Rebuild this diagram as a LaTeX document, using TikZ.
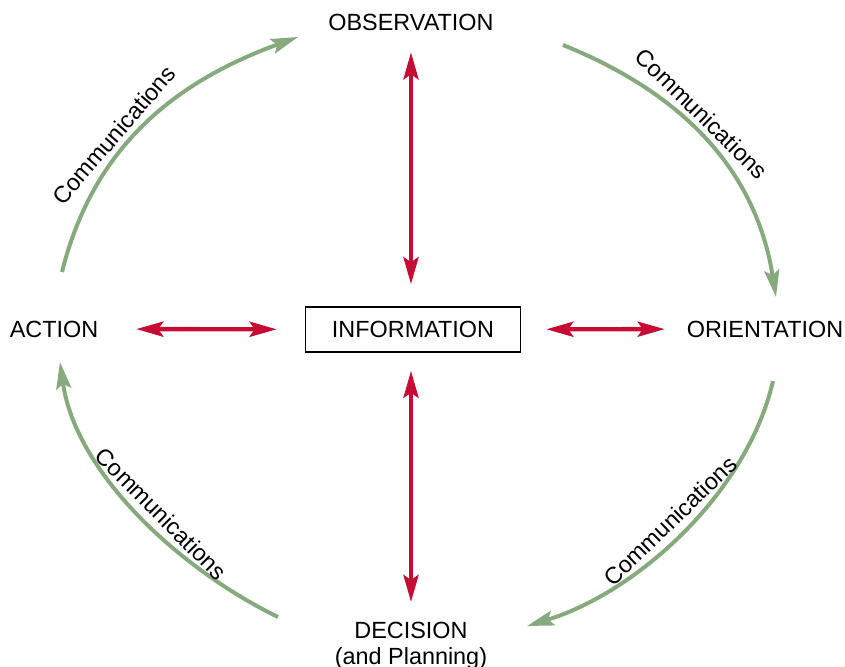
\documentclass[tikz,border=0pt]{standalone}
\usepackage{fontspec}
\setmainfont{Liberation Sans}
\usetikzlibrary{arrows.meta}
\definecolor{infored}{RGB}{198,12,52}
\definecolor{commgreen}{RGB}{134,170,126}

\begin{document}
\begin{tikzpicture}[x=0.5pt,y=0.5pt,
    every node/.style={inner sep=0pt, font=\fontsize{11.7}{12.8}\selectfont},
    infobox/.style={draw, line width=0.75pt, minimum width=107.5pt, minimum height=22.5pt},
    infolink/.style={infored, line width=2.2pt,
      {Stealth[length=13.5pt,width=7.5pt,inset=2.5pt]}-{Stealth[length=13.5pt,width=7.5pt,inset=2.5pt]}},
    comm/.style={commgreen, line width=2pt, -{Stealth[length=13.5pt,width=7.5pt,inset=2.5pt]}},
    commlabel/.style={sloped, above, inner sep=2.5pt, text=black}]
  \useasboundingbox (0,0) rectangle (845,-667);
  % the four phases and the centre box
  \node (obs) at (411,-22) {OBSERVATION};
  \node (ori) at (765,-329) {ORIENTATION};
  \node (act) at (54,-329) {ACTION};
  \node[align=center, anchor=north] (dec) at (411,-622) {DECISION\\(and Planning)};
  \node[infobox] (info) at (413,-329.5) {INFORMATION};
  % information exchange
  \draw[infolink, shorten <=11pt, shorten >=10.8pt] (info.north -| obs) -- (obs);
  \draw[infolink, shorten <=9pt, shorten >=10pt] (info.south -| dec) -- (dec);
  \draw[infolink, shorten <=14pt, shorten >=18.8pt] (info) -- (act);
  \draw[infolink, shorten <=12.5pt, shorten >=10.8pt] (info) -- (ori);
  % ends of the loop arcs
  \coordinate (act-out) at (62,-272);
  \coordinate (obs-in) at (298,-37);
  \coordinate (obs-out) at (563,-45);
  \coordinate (ori-in) at (776,-297);
  \coordinate (ori-out) at (773,-381);
  \coordinate (dec-in) at (527,-626);
  \coordinate (dec-out) at (278,-617);
  \coordinate (act-in) at (60,-362);
  % communications loop
  \draw[comm] (act-out) to[out=76, in=200] node[commlabel, pos=0.41] {Communications} (obs-in);
  \draw[comm] (obs-out) to[out=-22, in=99] node[commlabel, pos=0.43] {Communications} (ori-in);
  \draw[comm] (ori-out) to[out=-103, in=17, looseness=0.85] node[commlabel, pos=0.5, inner sep=3pt] {Communications} (dec-in);
  \draw[comm] (dec-out) to[out=154, in=-82, looseness=0.85] node[commlabel, pos=0.45, inner sep=3pt] {Communications} (act-in);
\end{tikzpicture}
\end{document}
